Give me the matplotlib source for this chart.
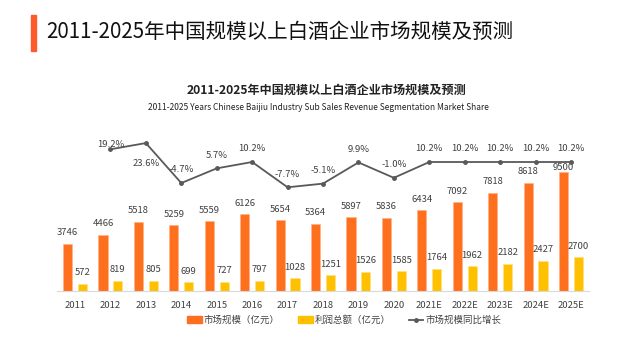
import matplotlib
matplotlib.use('Agg')
import matplotlib.pyplot as plt
from matplotlib.patches import Rectangle
from matplotlib.lines import Line2D

plt.rcParams['font.family'] = ['Noto Sans CJK SC', 'DejaVu Sans']

years = ['2011', '2012', '2013', '2014', '2015', '2016', '2017', '2018', '2019', '2020',
         '2021E', '2022E', '2023E', '2024E', '2025E']
market = [3746, 4466, 5518, 5259, 5559, 6126, 5654, 5364, 5897, 5836, 6434, 7092, 7818, 8618, 9500]
profit = [572, 819, 805, 699, 727, 797, 1028, 1251, 1526, 1585, 1764, 1962, 2182, 2427, 2700]
growth = [None, 19.2, 23.6, -4.7, 5.7, 10.2, -7.7, -5.1, 9.9, -1.0, 10.2, 10.2, 10.2, 10.2, 10.2]

ORANGE = '#FF701E'
YELLOW = '#FFC000'
GREY = '#595959'
TXT = '#404040'

fig = plt.figure(figsize=(6.25, 3.43), dpi=100)
fig.patch.set_facecolor('white')

# page header
fig.patches.append(Rectangle((31 / 625, 1 - 51 / 343), 5 / 625, 36 / 343,
                             transform=fig.transFigure, color='#FF5A2C'))
fig.text(46 / 625, 1 - 32 / 343, '2011-2025年中国规模以上白酒企业市场规模及预测',
         fontsize=14.75, va='center', ha='left', color='#111111')

# chart titles
fig.text(0.5216, 1 - 90 / 343, '2011-2025年中国规模以上白酒企业市场规模及预测',
         fontsize=8.7, fontweight='bold', ha='center', va='center', color='#222222')
fig.text(0.509, 1 - 108 / 343,
         '2011-2025 Years Chinese Baijiu Industry Sub Sales Revenue Segmentation Market Share',
         fontsize=6.05, ha='center', va='center', color='#222222')

ax = fig.add_axes([57.3 / 625, 1 - 291 / 343, (588.7 - 57.3) / 625, 161 / 343])
x = list(range(len(years)))
w = 0.26
off = 0.21
ax.bar([i - off for i in x], market, width=w, color=ORANGE, edgecolor='#FFB080', linewidth=0.4, zorder=2)
ax.bar([i + off for i in x], profit, width=w, color=YELLOW, edgecolor='#FFE080', linewidth=0.4, zorder=2)
ax.set_xlim(-0.5, 14.5)
ax.set_ylim(0, 12853)

for i, v in enumerate(market):
    dy = 3 if i == 14 else 8
    ax.annotate(str(v), (i - off, v), xytext=(0, dy), textcoords='offset points',
                ha='center', va='center', fontsize=6.8, color=TXT, zorder=5)
for i, v in enumerate(profit):
    ax.annotate(str(v), (i + off, v), xytext=(0, 8), textcoords='offset points',
                ha='center', va='center', fontsize=6.8, color=TXT, zorder=5)

for s in ['top', 'right', 'left']:
    ax.spines[s].set_visible(False)
ax.spines['bottom'].set_color('#D9D9D9')
ax.set_yticks([])
ax.set_xticks(x)
ax.set_xticklabels(years, fontsize=6.8, color=TXT)
ax.tick_params(axis='x', length=0, pad=7)

ax2 = ax.twinx()
ax2.set_ylim(-81.1, 32.85)
gx = [i for i, g in enumerate(growth) if g is not None]
gy = [g for g in growth if g is not None]
ax2.plot(gx, gy, color=GREY, linewidth=1.3, marker='o', markersize=2.5, zorder=4)
for i, g in zip(gx, gy):
    dy = 9.4
    if i == 1:
        dy = 3.6
    elif i == 2:
        dy = -15
    ax2.annotate('%.1f%%' % g, (i, g), xytext=(0, dy), textcoords='offset points',
                 ha='center', va='center', fontsize=6.8, color=TXT, zorder=3)
ax2.axis('off')

handles = [Rectangle((0, 0), 1, 1, color=ORANGE), Rectangle((0, 0), 1, 1, color=YELLOW),
           Line2D([0], [0], color=GREY, linewidth=1.3, marker='o', markersize=2.5)]
labels = ['市场规模（亿元）', '利润总额（亿元）', '市场规模同比增长']
fig.legend(handles, labels, loc='center', bbox_to_anchor=(0.551, 1 - 320 / 343), ncol=3,
           frameon=False, fontsize=6.8, handlelength=1.5, handleheight=0.7,
           columnspacing=2.0, handletextpad=0.2, labelcolor=TXT)

fig.savefig('out.png', dpi=100, facecolor='white')
